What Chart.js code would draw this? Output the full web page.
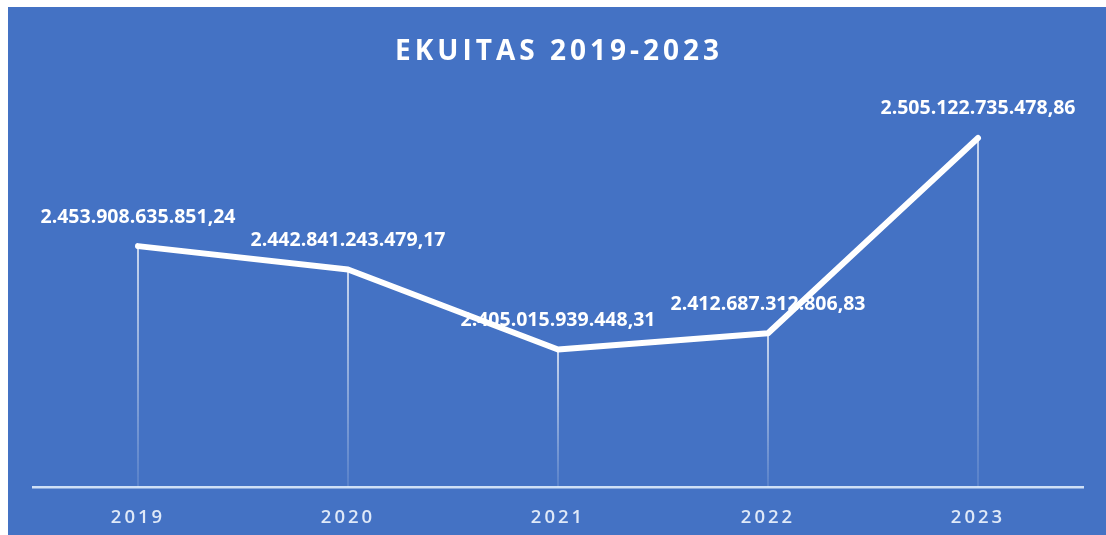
<!DOCTYPE html>
<html lang="id">
<head>
  <meta charset="UTF-8">
  <title>Ekuitas 2019-2023</title>
  <script src="https://cdn.jsdelivr.net/npm/chart.js"></script>
  <style>
    html, body { margin: 0; padding: 0; background: #fff; }
    #panel { position: absolute; left: 8px; top: 7px; width: 1098px; height: 528px; background: #4472c4; overflow: hidden; }
    #title {
      position: absolute; left: 0; right: 0; top: 23px; margin: 0; text-align: center;
      font: bold 28px "Open Sans", sans-serif; color: #fff; letter-spacing: 4px; padding-left: 4px;
    }
    #chart { position: absolute; left: 0; top: 0; }
  </style>
</head>
<body>
<div id="panel">
  <canvas id="chart" width="1098" height="550"></canvas>
  <h1 id="title">EKUITAS 2019-2023</h1>
</div>

<script>
const years = ['2019', '2020', '2021', '2022', '2023'];
const ekuitas = [2453908635851.24, 2442841243479.17, 2405015939448.31, 2412687312806.83, 2505122735478.86];
const yMin = 2340e9;
const yMax = 2520e9;

// format like 2.453.908.635.851,24
function formatId(v) {
  const parts = v.toFixed(2).split('.');
  return parts[0].replace(/\B(?=(\d{3})+(?!\d))/g, '.') + ',' + parts[1];
}

const spacing = {
  id: 'spacing',
  beforeDraw(chart) { chart.ctx.letterSpacing = '3px'; },
  beforeDatasetsDraw(chart) { chart.ctx.letterSpacing = '0px'; }
};

const dropLines = {
  id: 'dropLines',
  beforeDatasetsDraw(chart) {
    const ctx = chart.ctx;
    const bottom = chart.chartArea.bottom;
    const pts = chart.getDatasetMeta(0).data;
    ctx.save();
    pts.forEach(p => {
      const g = ctx.createLinearGradient(0, p.y, 0, bottom);
      g.addColorStop(0, 'rgba(255,255,255,0.95)');
      g.addColorStop(1, 'rgba(255,255,255,0.15)');
      ctx.strokeStyle = g;
      ctx.lineWidth = 1.5;
      ctx.beginPath();
      ctx.moveTo(p.x, p.y);
      ctx.lineTo(p.x, bottom);
      ctx.stroke();
    });
    ctx.restore();
  }
};

const valueLabels = {
  id: 'valueLabels',
  afterDatasetsDraw(chart) {
    const ctx = chart.ctx;
    const pts = chart.getDatasetMeta(0).data;
    ctx.save();
    ctx.font = 'bold 19.5px "Open Sans", sans-serif';
    ctx.fillStyle = '#ffffff';
    ctx.textAlign = 'center';
    ctx.textBaseline = 'middle';
    pts.forEach((p, i) => {
      ctx.fillText(formatId(ekuitas[i]), p.x, p.y - 29);
    });
    ctx.restore();
  }
};

new Chart(document.getElementById('chart'), {
  type: 'line',
  data: {
    labels: years,
    datasets: [{
      data: ekuitas,
      borderColor: '#ffffff',
      borderWidth: 6,
      borderCapStyle: 'round',
      borderJoinStyle: 'round',
      pointRadius: 0,
      tension: 0,
      fill: false
    }]
  },
  options: {
    responsive: false,
    animation: false,
    layout: { padding: { left: 25, right: 23, top: 99.5, bottom: 8 } },
    plugins: {
      legend: { display: false },
      title: { display: false },
      tooltip: { enabled: false }
    },
    scales: {
      x: {
        offset: true,
        grid: { display: false, drawTicks: false },
        border: { display: true, color: '#cfe0f6', width: 2.5 },
        ticks: {
          color: '#dfe9f8',
          padding: 20,
          font: { family: '"Open Sans", sans-serif', size: 18.5, weight: '600' }
        }
      },
      y: {
        display: false,
        min: yMin,
        max: yMax
      }
    }
  },
  plugins: [spacing, dropLines, valueLabels]
});
</script>
</body>
</html>
